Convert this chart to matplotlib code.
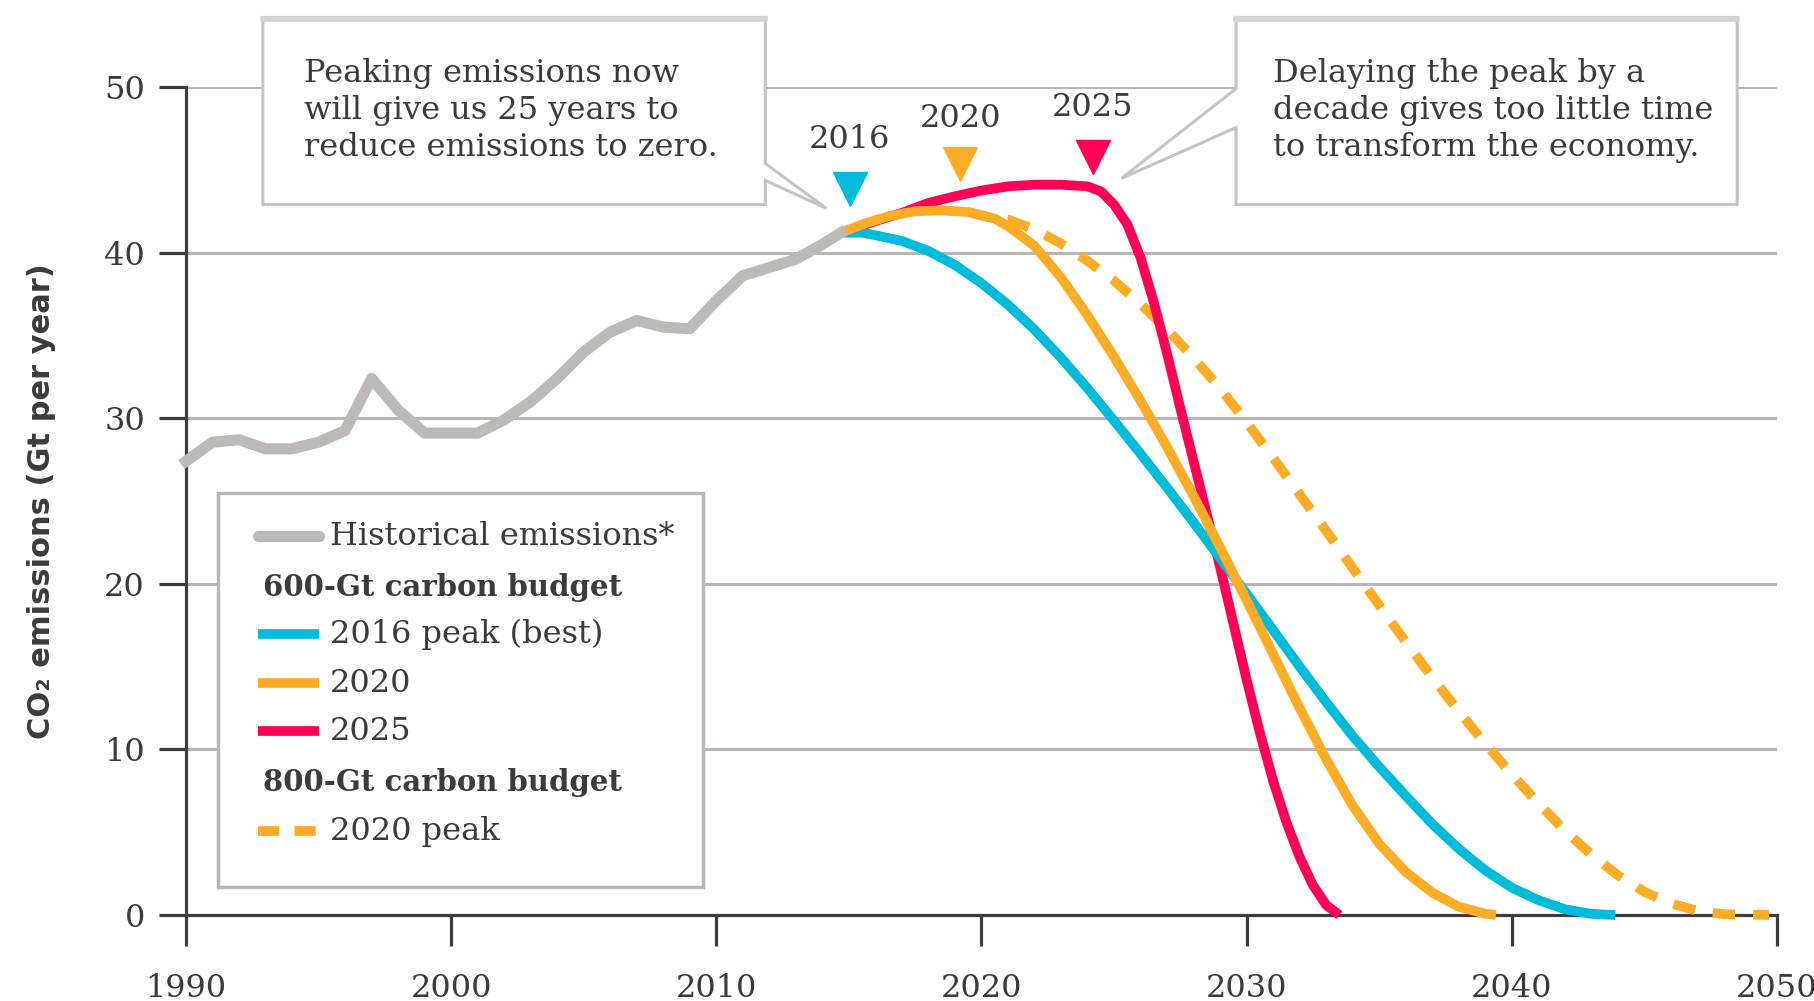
import numpy as np
import matplotlib.pyplot as plt
from matplotlib.patches import Polygon, Rectangle


# Emissions historiques (Gt par an)
annees_hist = [1990, 1991, 1992, 1993, 1994, 1995, 1996, 1997, 1998, 1999, 2000, 2001, 2002,
               2003, 2004, 2005, 2006, 2007, 2008, 2009, 2010, 2011, 2012, 2013, 2014, 2014.7]
hist = [27.4, 28.55, 28.7, 28.15, 28.15, 28.55, 29.25, 32.4, 30.5, 29.1, 29.1, 29.1, 29.9,
        31.0, 32.4, 34.0, 35.2, 35.9, 35.5, 35.4, 37.1, 38.6, 39.1, 39.6, 40.5, 41.2]

# Budget 600 Gt, pic en 2016
annees_2016 = [2014.7, 2015.5, 2016, 2017, 2018, 2019, 2020, 2021, 2022, 2023, 2024, 2025, 2026,
               2027, 2028, 2029, 2030, 2031, 2032, 2033, 2034, 2035, 2036, 2037, 2038, 2039,
               2040, 2041, 2042, 2043, 2043.9]
pic_2016 = [41.2, 41.2, 41.05, 40.7, 40.1, 39.25, 38.15, 36.85, 35.35, 33.65, 31.8, 29.85, 27.85,
            25.8, 23.7, 21.55, 19.4, 17.2, 15.0, 12.85, 10.8, 8.95, 7.2, 5.5, 4.0, 2.7,
            1.65, 0.9, 0.35, 0.07, 0.0]

# Budget 600 Gt, pic en 2020
annees_2020 = [2014.7, 2015.5, 2016.5, 2017.5, 2018.5, 2019.5, 2020.5, 2021, 2022, 2023, 2024,
               2025, 2026, 2027, 2028, 2029, 2030, 2031, 2032, 2033, 2034, 2035, 2036, 2037,
               2038, 2039, 2039.4]
pic_2020 = [41.2, 41.7, 42.2, 42.5, 42.55, 42.45, 42.05, 41.6, 40.4, 38.5, 36.2,
            33.7, 31.05, 28.25, 25.3, 22.2, 19.0, 15.75, 12.5, 9.4, 6.6, 4.3, 2.6, 1.35,
            0.5, 0.08, 0.0]

# Budget 600 Gt, pic en 2025
annees_2025 = [2014.7, 2016, 2017, 2018, 2019, 2020, 2021, 2022, 2023, 2024, 2024.5, 2025,
               2025.5, 2026, 2026.5, 2027, 2027.5, 2028, 2028.5, 2029, 2029.5, 2030, 2030.5,
               2031, 2031.5, 2032, 2032.5, 2033, 2033.5]
pic_2025 = [41.2, 41.9, 42.4, 43.0, 43.4, 43.75, 44.0, 44.1, 44.1, 44.0, 43.7, 42.9,
            41.7, 39.7, 37.0, 33.9, 30.6, 27.4, 24.2, 21.0, 17.6, 14.2, 11.0,
            8.1, 5.6, 3.5, 1.8, 0.6, 0.0]

# Budget 800 Gt, pic en 2020
annees_800 = [2019.5, 2020.5, 2021, 2022, 2023, 2024, 2025, 2026, 2027, 2028, 2029, 2030,
              2031, 2032, 2033, 2034, 2035, 2036, 2037, 2038, 2039, 2040, 2041, 2042, 2043,
              2044, 2045, 2046, 2047, 2048, 2049.7]
pic_800 = [42.45, 42.05, 42.0, 41.4, 40.55, 39.5, 38.3, 36.9, 35.35, 33.65, 31.8, 29.75,
           27.6, 25.4, 23.2, 20.95, 18.7, 16.5, 14.35, 12.3, 10.35, 8.5, 6.75, 5.1, 3.65,
           2.4, 1.4, 0.7, 0.25, 0.05, 0.0]

# Triangles des pics
pics_x = [2015.04, 2019.2, 2024.2]
pics_y = [43.84, 45.35, 45.8]
pics_lab = ['2016', '2020', '2025']
pics_lab_y = [46.8, 48.1, 48.75]

x_ticks = [1990, 2000, 2010, 2020, 2030, 2040, 2050]
y_ticks = [0, 10, 20, 30, 40, 50]

C_cyan = '#00bcd9'
C_orange = '#fdac25'
C_rouge = '#ff0055'
C_gris = '#bdb9b9'
C_grille = '#b9b5b5'
C_axe = '#3d3d3d'
C_texte = '#3b3b3b'
C_bord = '#c6c3c3'

plt.rcParams['font.family'] = 'DejaVu Serif'

fig = plt.figure(figsize=(18.14, 10.01), dpi=100)
ax = fig.add_axes([0.1025, 0.0859, 0.8771, 0.8272])

ax.set_xlim(1990, 2050)
ax.set_ylim(0, 50)
ax.set_xticks(x_ticks)
ax.set_yticks(y_ticks)
ax.yaxis.grid(True, color=C_grille, lw=2.2)
ax.set_axisbelow(True)
for s in ['top', 'right']:
    ax.spines[s].set_visible(False)
for s in ['left', 'bottom']:
    ax.spines[s].set_color(C_axe)
    ax.spines[s].set_linewidth(2.3)
    ax.spines[s].set_zorder(2.5)
ax.tick_params(axis='x', direction='out', length=22, width=2.3, pad=20, labelsize=23,
               color=C_axe, labelcolor=C_texte)
ax.tick_params(axis='y', direction='out', length=19.5, width=2.3, pad=10, labelsize=23,
               color=C_axe, labelcolor=C_texte)

ax.set_ylabel('CO₂ emissions (Gt per year)', fontfamily='DejaVu Sans', fontweight='bold',
              fontsize=22, color=C_texte, va='center')
ax.yaxis.set_label_coords(-0.0905, 0.5)

# Courbes
ax.plot(annees_800, pic_800, color=C_orange, lw=7, dashes=(2.3, 1.85),
        dash_capstyle='butt', clip_on=False, zorder=3)
ax.plot(annees_2025, pic_2025, color=C_rouge, lw=7, solid_capstyle='butt', clip_on=False, zorder=4)
ax.plot(annees_2016, pic_2016, color=C_cyan, lw=7, solid_capstyle='butt', clip_on=False, zorder=4.5)
ax.plot(annees_2020, pic_2020, color=C_orange, lw=7, solid_capstyle='butt', clip_on=False, zorder=5)
ax.plot(annees_hist, hist, color=C_gris, lw=8, solid_joinstyle='round', clip_on=False, zorder=5.5)

for x, y, lab, ly, c in zip(pics_x, pics_y, pics_lab, pics_lab_y, [C_cyan, C_orange, C_rouge]):
    ax.plot([x], [y], marker='v', ms=25, color=c, linestyle='none', clip_on=False, zorder=6)
    ax.text(x, ly, lab, ha='center', va='center', fontsize=23, color=C_texte, zorder=6)

# Bulles de texte
def bulle(x0, x1, y0, y1, pointe, base, cote, texte, tx):
    if cote == 'droite':
        pts = [(x0, y0), (x0, y1), (x1, y1), (x1, base[0]), pointe, (x1, base[1]), (x1, y0)]
    else:
        pts = [(x1, y0), (x1, y1), (x0, y1), (x0, base[0]), pointe, (x0, base[1]), (x0, y0)]
    ax.add_patch(Polygon(pts, closed=True, facecolor='white', edgecolor=C_bord, lw=2.2,
                         clip_on=False, zorder=7))
    ax.plot([x0, x1], [y1 - 0.08, y1 - 0.08], color='#d3d3d3', lw=4, solid_capstyle='projecting',
            clip_on=False, zorder=7.5)
    ax.text(tx, (y0 + y1) / 2 + 0.05, texte, ha='left', va='center', fontsize=23,
            color=C_texte, linespacing=1.25, zorder=8)

bulle(1992.9, 2011.85, 42.9, 54.2, (2014.15, 42.67), (45.38, 44.36), 'droite',
      'Peaking emissions now\nwill give us 25 years to\nreduce emissions to zero.', 1994.45)
bulle(2029.6, 2048.5, 42.9, 54.2, (2025.28, 44.48), (49.9, 47.55), 'gauche',
      'Delaying the peak by a\ndecade gives too little time\nto transform the economy.', 2031.0)

# Legende
ax.add_patch(Rectangle((1991.21, 1.69), 18.29, 23.81, facecolor='white', edgecolor=C_grille,
                       lw=2.5, zorder=7))
lx0, lx1, ltx, lhx = 1992.72, 1995.02, 1995.43, 1992.9
rangs = [22.87, 19.79, 16.96, 14.0, 11.1, 8.03, 5.07]
ax.plot([lx0, lx1], [rangs[0]] * 2, color=C_gris, lw=8, solid_capstyle='round', zorder=8)
ax.text(ltx, rangs[0], 'Historical emissions*', va='center', fontsize=23, color=C_texte, zorder=8)
ax.text(lhx, rangs[1], '600-Gt carbon budget', va='center', fontsize=21, fontweight='bold',
        color=C_texte, zorder=8)
for r, c, lab in zip(rangs[2:5], [C_cyan, C_orange, C_rouge], ['2016 peak (best)', '2020', '2025']):
    ax.plot([lx0, lx1], [r, r], color=c, lw=7, solid_capstyle='butt', zorder=8)
    ax.text(ltx, r, lab, va='center', fontsize=23, color=C_texte, zorder=8)
ax.text(lhx, rangs[5], '800-Gt carbon budget', va='center', fontsize=21, fontweight='bold',
        color=C_texte, zorder=8)
ax.plot([lx0, lx1], [rangs[6]] * 2, color=C_orange, lw=7, dashes=(2.2, 1.55),
        dash_capstyle='butt', zorder=8)
ax.text(ltx, rangs[6], '2020 peak', va='center', fontsize=23, color=C_texte, zorder=8)

fig.savefig('out.png', dpi=100)
